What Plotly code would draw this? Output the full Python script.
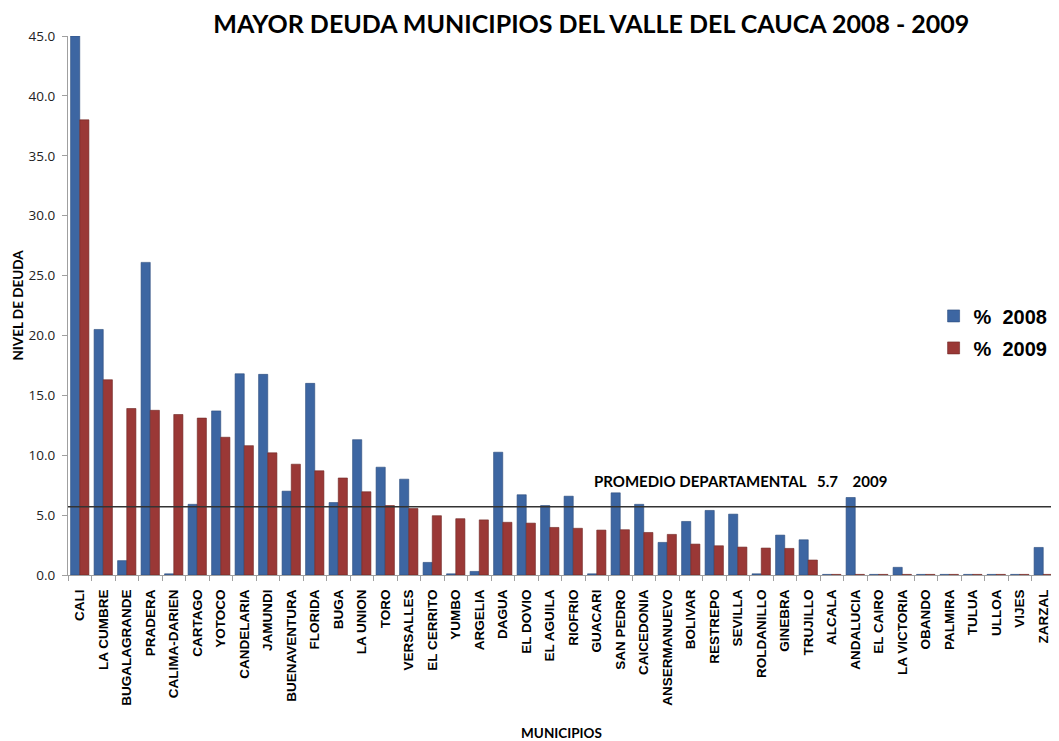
import plotly.graph_objects as go

municipios = ["CALI", "LA CUMBRE", "BUGALAGRANDE", "PRADERA", "CALIMA-DARIEN", "CARTAGO",
              "YOTOCO", "CANDELARIA", "JAMUNDI", "BUENAVENTURA", "FLORIDA", "BUGA",
              "LA UNION", "TORO", "VERSALLES", "EL CERRITO", "YUMBO", "ARGELIA", "DAGUA",
              "EL DOVIO", "EL AGUILA", "RIOFRIO", "GUACARI", "SAN PEDRO", "CAICEDONIA",
              "ANSERMANUEVO", "BOLIVAR", "RESTREPO", "SEVILLA", "ROLDANILLO", "GINEBRA",
              "TRUJILLO", "ALCALA", "ANDALUCIA", "EL CAIRO", "LA VICTORIA", "OBANDO",
              "PALMIRA", "TULUA", "ULLOA", "VIJES", "ZARZAL"]

deuda_2008 = [45.0, 20.5, 1.2, 26.1, 0.1, 5.9, 13.7, 16.8, 16.75, 7.0, 16.0, 6.05,
              11.3, 9.0, 8.0, 1.05, 0.1, 0.3, 10.25, 6.7, 5.8, 6.58, 0.1, 6.86, 5.9,
              2.72, 4.47, 5.39, 5.08, 0.1, 3.33, 2.94, 0.05, 6.47, 0.05, 0.64, 0.05,
              0.05, 0.05, 0.05, 0.05, 2.3]

deuda_2009 = [38.0, 16.3, 13.9, 13.75, 13.4, 13.1, 11.5, 10.8, 10.2, 9.25, 8.7, 8.1,
              6.95, 5.8, 5.55, 4.95, 4.7, 4.6, 4.4, 4.33, 3.97, 3.9, 3.75, 3.78, 3.55,
              3.39, 2.58, 2.44, 2.33, 2.25, 2.22, 1.25, 0.05, 0.05, 0.05, 0.05, 0.05,
              0.05, 0.05, 0.05, 0.05, 0.05]

promedio = 5.7
y_ticks = [0, 5, 10, 15, 20, 25, 30, 35, 40, 45]

fig = go.Figure()
fig.add_trace(go.Bar(x=municipios, y=deuda_2008, name="%\u00a0\u00a02008", legendgroup="a",
                     marker=dict(color="#3D66A2", line=dict(color="#2C4C7C", width=0.6))))
fig.add_trace(go.Bar(x=municipios, y=deuda_2009, name="%\u00a0\u00a02009", legendgroup="b",
                     marker=dict(color="#9A3836", line=dict(color="#6E2624", width=0.6))))

fig.add_shape(type="line", xref="paper", x0=0, x1=1, yref="y", y0=promedio, y1=promedio,
              line=dict(color="#333333", width=1.5))
fig.add_annotation(xref="paper", x=0.531, yref="y", y=7.85, xanchor="left", yanchor="middle",
                   text="PROMEDIO DEPARTAMENTAL\u00a0\u00a0\u00a0" + str(promedio) + "\u00a0\u00a0\u00a0\u00a02009",
                   showarrow=False, font=dict(family="Lato", size=15, color="black", weight="bold"))

fig.update_layout(
    width=1051, height=733,
    paper_bgcolor="white", plot_bgcolor="white",
    margin=dict(l=60, r=4, t=28, b=166, autoexpand=False),
    barmode="group", bargap=0.22, bargroupgap=0.0,
    title=dict(text="<b>MAYOR DEUDA MUNICIPIOS DEL VALLE DEL CAUCA 2008 - 2009</b>",
               x=0.555, xanchor="center", y=1 - 16.5 / 733, yanchor="middle",
               font=dict(family="Lato", size=25, color="black")),
    legend=dict(x=0.877, y=0.451, xanchor="left", yanchor="middle", bgcolor="rgba(0,0,0,0)",
                borderwidth=0,
                font=dict(family="Arial", size=20, color="black", weight="bold"),
                traceorder="grouped", tracegroupgap=3, itemwidth=30),
    xaxis=dict(tickangle=-90, tickfont=dict(family="Arial", size=13.5, color="black", weight="bold"),
               showline=True, linecolor="#A0A0A0", ticks="outside", tickson="boundaries",
               ticklen=5, tickcolor="#A0A0A0", showgrid=False, ticklabelstandoff=8,
               automargin=False,
               title=dict(text="<b>MUNICIPIOS</b>", font=dict(family="Lato", size=13.5, color="black"),
                          standoff=27)),
    yaxis=dict(range=[0, 45], tickvals=y_ticks, tickformat=".1f",
               tickfont=dict(family="Open Sans", size=13.5, color="#222222"),
               showline=True, linecolor="#A0A0A0", ticks="outside", ticklen=5, tickcolor="#A0A0A0",
               showgrid=False, zeroline=False, ticklabelstandoff=4, automargin=False,
               title=dict(text="<b>NIVEL DE DEUDA</b>", font=dict(family="Lato", size=13.5, color="black"),
                          standoff=1)),
)

fig.write_html("out.html")
